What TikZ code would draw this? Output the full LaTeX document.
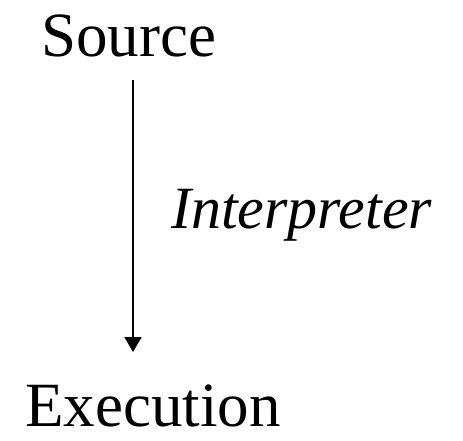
\documentclass[tikz,border=0pt]{standalone}
\usepackage{fontspec}
\setmainfont{Liberation Serif}
\usetikzlibrary{arrows.meta}

\tikzset{
  word/.style={anchor=base west, inner sep=0pt, font=\fontsize{63}{70}\selectfont},
  flow/.style={line width=2pt, -{Triangle[width=17pt,length=15pt]}}
}

\begin{document}
\begin{tikzpicture}[x=1pt,y=1pt]
\useasboundingbox (0,0) rectangle (463,440);

\node[word] (source) at (41,383) {Source};
\node[word] (execution) at (25,14) {Execution};
\node[word, font=\fontsize{60}{70}\selectfont\itshape] (interp) at (171,212) {Interpreter};

\coordinate (start) at (133,360);
\coordinate (stop) at (133,88);
\draw [flow] (start) -- (stop);

\end{tikzpicture}
\end{document}
